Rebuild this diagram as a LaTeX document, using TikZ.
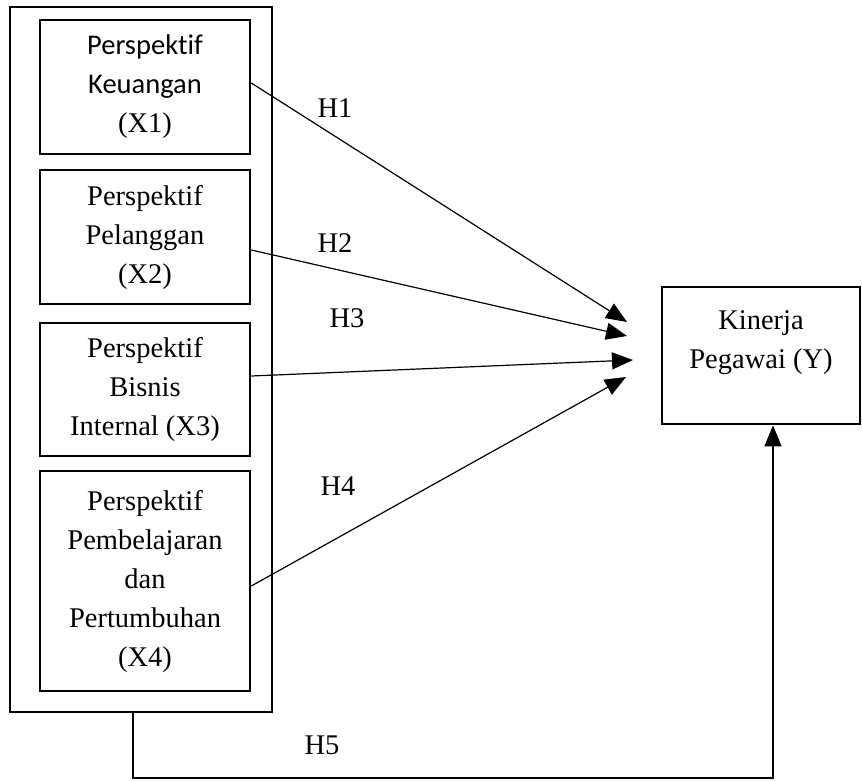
\documentclass[tikz,border=0pt]{standalone}
\usepackage{fontspec}
\setmainfont{Liberation Serif}
\newfontfamily\calib[Ligatures=NoCommon]{Carlito}
\usetikzlibrary{arrows.meta,calc}
\begin{document}
\begin{tikzpicture}[x=1pt,y=-1pt,
  box/.style={draw,line width=2.6pt,rectangle,inner sep=0pt,align=center},
  conn/.style={line width=1.2pt,-{Triangle[length=21pt,width=17pt]}},
  hlab/.style={font=\fontsize{28.5}{34}\selectfont,inner sep=0pt}]
\useasboundingbox (0,0) rectangle (862,781);
\tikzset{every node/.append style={font=\fontsize{28.5}{39}\selectfont}}
\node[box,minimum width=262pt,minimum height=705pt] (outer) at (141,359.5) {};
\node[box,minimum width=210pt,minimum height=134pt] (b1) at (145,87) {{\calib Perspektif}\\{\calib Keuangan}\\(X1)};
\node[box,minimum width=210pt,minimum height=134pt] (b2) at (145,237) {Perspektif\\Pelanggan\\(X2)};
\node[box,minimum width=210pt,minimum height=133pt] (b3) at (145,389.5) {Perspektif\\Bisnis\\Internal (X3)};
\node[box,minimum width=210pt,minimum height=220pt] (b4) at (145,581) {Perspektif\\Pembelajaran\\dan\\Pertumbuhan\\(X4)};
\node[box,minimum width=198pt,minimum height=137pt] (Y) at (761,355.5) {};
\node[align=center,inner sep=0pt] (ytext) at (761,343) {Kinerja\\Pegawai (Y)};
\coordinate (t1) at (627,322);
\coordinate (t2) at (627,336);
\coordinate (t3) at (633,360);
\coordinate (t4) at (626,377);
\draw[conn] ([yshift=4pt]b1.east) -- (t1);
\draw[conn] ([yshift=-13pt]b2.east) -- (t2);
\draw[conn] ([yshift=13.5pt]b3.east) -- (t3);
\draw[conn] ([yshift=-5pt]b4.east) -- (t4);
\coordinate (c1) at (133,778);
\coordinate (c2) at (773,778);
\draw[conn] (outer.south -| c1) -- (c1) -- (c2) -- (Y.south -| c2);
\node[hlab] (h1) at (335,108) {H1};
\node[hlab] (h2) at (335,243) {H2};
\node[hlab] (h3) at (347,318) {H3};
\node[hlab] (h4) at (338,486) {H4};
\node[hlab] (h5) at (322,745) {H5};
\end{tikzpicture}
\end{document}
